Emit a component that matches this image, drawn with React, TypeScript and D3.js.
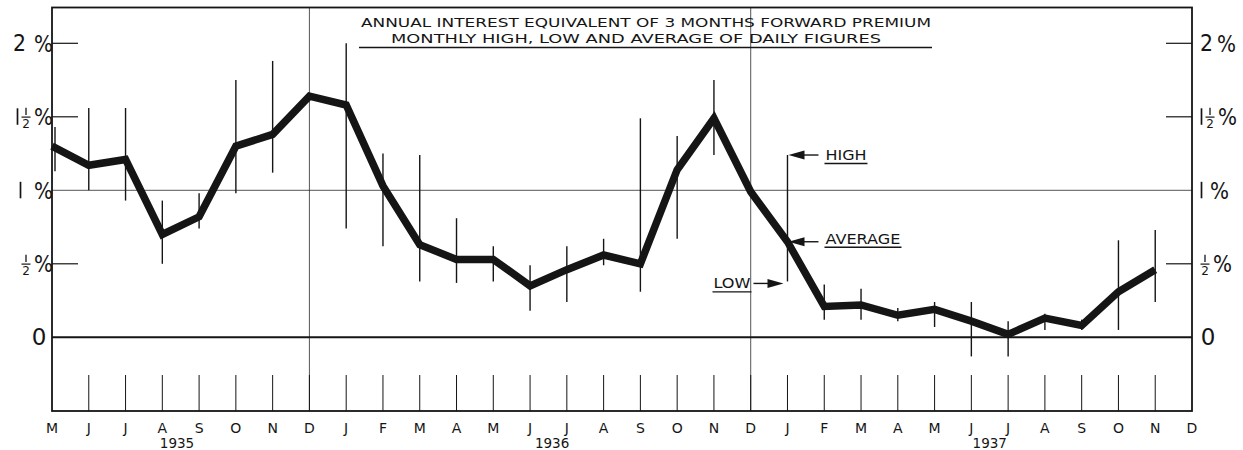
import * as d3 from 'd3'

// monthly figures, May 1935 .. Nov 1937 (per cent per annum)
const monthLabels = ['M', 'J', 'J', 'A', 'S', 'O', 'N', 'D', 'J', 'F', 'M', 'A', 'M', 'J', 'J', 'A', 'S', 'O', 'N', 'D', 'J', 'F', 'M', 'A', 'M', 'J', 'J', 'A', 'S', 'O', 'N', 'D']
const average = [1.3, 1.17, 1.21, 0.7, 0.82, 1.3, 1.38, 1.64, 1.58, 1.03, 0.63, 0.53, 0.53, 0.35, 0.46, 0.56, 0.5, 1.14, 1.49, 0.99, 0.65, 0.21, 0.22, 0.15, 0.19, 0.11, 0.02, 0.13, 0.08, 0.31, 0.46]
const high = [1.43, 1.56, 1.56, 0.93, 0.98, 1.75, 1.88, null, 2.0, 1.25, 1.24, 0.81, 0.62, 0.49, 0.62, 0.67, 1.49, 1.37, 1.75, null, 1.24, 0.36, 0.33, 0.2, 0.24, 0.24, 0.11, 0.16, 0.12, 0.66, 0.73]
const low = [1.13, 1.0, 0.93, 0.5, 0.74, 0.98, 1.12, null, 0.74, 0.62, 0.38, 0.37, 0.38, 0.18, 0.24, 0.49, 0.31, 0.67, 1.24, null, 0.38, 0.12, 0.12, 0.11, 0.07, -0.13, -0.13, 0.05, 0.05, 0.05, 0.24]
const years = [
  { label: '1935', at: 3.4 },
  { label: '1936', at: 13.6 },
  { label: '1937', at: 25.5 },
]
const yTicks = [2, 1.5, 1, 0.5, 0]
const decemberLines = [7, 19]
const legendMonth = 20

const INK = '#151515'
const FONT = '"DejaVu Sans", sans-serif'

// big axis label: whole part, optional ½, then %
function PctLabel({ v, x, y, side }: { v: number; x: number; y: number; side: 'left' | 'right' }) {
  const whole = Math.floor(v)
  const half = v % 1 !== 0
  const fs = 23
  if (v === 0) {
    return (
      <text x={side === 'left' ? 39 : 1208} y={y + 8} fontSize={fs} textAnchor="middle" fill={INK} fontFamily={FONT}>0</text>
    )
  }
  const pctW = 19
  const fracW = half ? 10 : 0
  const wholeW = whole === 2 ? 13 : whole === 1 ? 3 : 0
  const gap = side === 'left' ? (whole === 1 ? 12 : 8) : whole === 1 && !half ? 7 : 4
  const total = wholeW + (wholeW ? (half ? 2 : gap) : 0) + fracW + (half ? 3 : 0) + pctW
  let cx = side === 'left' ? x - total : x
  const parts: JSX.Element[] = []
  if (whole === 2) {
    parts.push(
      <text key="w" x={cx + wholeW / 2} y={y + 8} fontSize={fs} textAnchor="middle" fill={INK} fontFamily={FONT} textLength={wholeW} lengthAdjust="spacingAndGlyphs">2</text>
    )
  } else if (whole === 1) {
    parts.push(<line key="w" x1={cx + 1.5} x2={cx + 1.5} y1={y - 8.5} y2={y + 8} stroke={INK} strokeWidth={1.7} />)
  }
  if (wholeW) cx += wholeW + (half ? 2 : gap)
  if (half) {
    const fx = cx + fracW / 2
    parts.push(
      <g key="f">
        <line x1={fx} x2={fx} y1={y - 9} y2={y - 1.8} stroke={INK} strokeWidth={1.3} />
        <line x1={fx - 4.5} x2={fx + 4.5} y1={y + 0.3} y2={y + 0.3} stroke={INK} strokeWidth={1.2} />
        <text x={fx} y={y + 11} fontSize={12} textAnchor="middle" fill={INK} fontFamily={FONT}>2</text>
      </g>
    )
    cx += fracW + 3
  }
  parts.push(
    <text key="p" x={cx} y={y + 8.5} fontSize={fs} fill={INK} fontFamily={FONT} textLength={pctW} lengthAdjust="spacingAndGlyphs">%</text>
  )
  return <g>{parts}</g>
}

export default function App() {
  const left = 52
  const right = 1192
  const top = 7.5
  const bottom = 411

  const x = d3.scaleLinear().domain([0, monthLabels.length - 1]).range([left, right])
  const y = d3.scaleLinear().domain([0, 2]).range([337.3, 43.3])

  const line = d3
    .line<number>()
    .x((_, i) => x(i))
    .y((d) => y(d))

  const lx = x(legendMonth)
  const yHigh = y(high[legendMonth] as number)
  const yAvg = y(average[legendMonth])
  const yLow = y(low[legendMonth] as number)

  const arrowLeft = (ay: number, key: string) => (
    <g key={key}>
      <line x1={lx + 16} x2={lx + 31} y1={ay} y2={ay} stroke={INK} strokeWidth={1.4} />
      <path d={`M${lx + 1},${ay} L${lx + 17},${ay - 4.5} L${lx + 17},${ay + 4.5} Z`} fill={INK} />
    </g>
  )

  const legendText = (label: string, tx: number, ty: number, w: number) => (
    <g key={label}>
      <text x={tx} y={ty + 5} fontSize={13.5} fill={INK} fontFamily={FONT} textLength={w} lengthAdjust="spacingAndGlyphs">{label}</text>
      <line x1={tx - 1} x2={tx + w + 1} y1={ty + 8.5} y2={ty + 8.5} stroke={INK} strokeWidth={1.3} />
    </g>
  )

  return (
    <svg
      width={1243}
      height={450}
      style={{ position: 'absolute', left: 0, top: 0, background: '#fff' }}
      fontFamily={FONT}
    >
      {/* title */}
      <text x={646} y={27} fontSize={12.5} textAnchor="middle" fill={INK} textLength={570} lengthAdjust="spacingAndGlyphs">
        ANNUAL INTEREST EQUIVALENT OF 3 MONTHS FORWARD PREMIUM
      </text>
      <text x={636} y={42.5} fontSize={12.5} textAnchor="middle" fill={INK} textLength={490} lengthAdjust="spacingAndGlyphs">
        MONTHLY HIGH, LOW AND AVERAGE OF DAILY FIGURES
      </text>
      <line x1={359} x2={932} y1={47.5} y2={47.5} stroke={INK} strokeWidth={1.3} />

      {/* grid */}
      <line x1={left} x2={right} y1={y(1)} y2={y(1)} stroke={INK} strokeWidth={0.9} opacity={0.8} />
      {decemberLines.map((m) => (
        <line key={m} x1={x(m)} x2={x(m)} y1={top} y2={bottom} stroke={INK} strokeWidth={0.9} opacity={0.8} />
      ))}
      <line x1={left} x2={right} y1={y(0)} y2={y(0)} stroke={INK} strokeWidth={2} />

      {/* y tick marks */}
      {yTicks
        .filter((t) => t !== 0 && t !== 1)
        .map((t) => (
          <g key={t}>
            <line x1={left} x2={left + 26} y1={y(t)} y2={y(t)} stroke={INK} strokeWidth={1.2} />
            <line x1={right - 26} x2={right} y1={y(t)} y2={y(t)} stroke={INK} strokeWidth={1.2} />
          </g>
        ))}

      {/* month ticks along the bottom */}
      {monthLabels.slice(1, -1).map((_, i) => (
        <line key={i} x1={x(i + 1)} x2={x(i + 1)} y1={375} y2={bottom} stroke={INK} strokeWidth={1} />
      ))}

      {/* high-low bars */}
      {average.map((_, i) =>
        high[i] == null || low[i] == null ? null : (
          <line key={i} x1={x(i) + (i === 0 ? 3 : 0)} x2={x(i) + (i === 0 ? 3 : 0)} y1={y(high[i] as number)} y2={y(low[i] as number)} stroke={INK} strokeWidth={1.4} />
        )
      )}

      {/* average line */}
      <path d={line(average) ?? ''} fill="none" stroke={INK} strokeWidth={7.5} strokeLinejoin="miter" strokeMiterlimit={3} />

      {/* frame */}
      <rect x={left} y={top} width={right - left} height={bottom - top} fill="none" stroke={INK} strokeWidth={1.8} />

      {/* y labels */}
      {yTicks.map((t) => (
        <g key={t}>
          <PctLabel v={t} x={53} y={y(t)} side="left" />
          <PctLabel v={t} x={1200} y={y(t)} side="right" />
        </g>
      ))}

      {/* month labels */}
      {monthLabels.map((m, i) => (
        <text key={i} x={x(i)} y={433} fontSize={14} textAnchor="middle" fill={INK}>{m}</text>
      ))}
      {years.map((yr) => (
        <text key={yr.label} x={x(yr.at)} y={448} fontSize={13.5} textAnchor="middle" fill={INK}>{yr.label}</text>
      ))}

      {/* legend annotations */}
      {arrowLeft(yHigh, 'ah')}
      {arrowLeft(yAvg, 'aa')}
      <g>
        <line x1={lx - 34} x2={lx - 18} y1={yLow + 2} y2={yLow + 2} stroke={INK} strokeWidth={1.4} />
        <path d={`M${lx - 4},${yLow + 2} L${lx - 20},${yLow - 2.5} L${lx - 20},${yLow + 6.5} Z`} fill={INK} />
      </g>
      {legendText('HIGH', lx + 38, yHigh, 41)}
      {legendText('AVERAGE', lx + 38, yAvg - 3, 75)}
      {legendText('LOW', lx - 74, yLow + 2, 37)}
    </svg>
  )
}
